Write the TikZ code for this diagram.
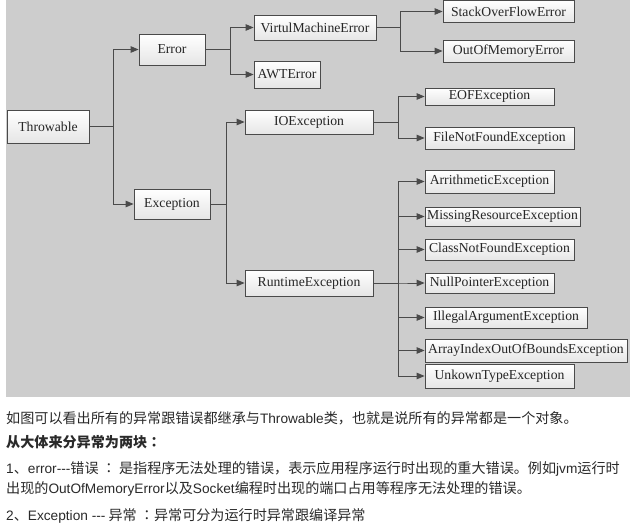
\documentclass[tikz,border=0pt]{standalone}
\usepackage{fontspec}
\setmainfont{Liberation Serif}
\newfontfamily\cjk{Noto Sans CJK SC}
\newfontfamily\cjktc{Noto Sans CJK TC}
\newfontfamily\latn[Scale=0.97]{Liberation Sans}
\usetikzlibrary{arrows.meta}
\definecolor{bggray}{HTML}{CDCDCD}
\definecolor{linegray}{HTML}{4A4A4A}
\definecolor{txtgray}{HTML}{2A2A2A}
\newcommand\hyph{-\kern0pt-\kern0pt-}
\newcommand\colonc{{\cjktc ：}}
\tikzset{
  box/.style={draw=linegray, line width=0.8pt, top color=white, bottom color=black!10,
    inner sep=0pt, text=black!85, font=\fontsize{13.7}{15}\selectfont, anchor=center},
  conn/.style={draw=linegray, line width=1pt, -{Triangle[length=8pt,width=6.5pt]}},
  para/.style={anchor=base west, inner sep=0pt, text=txtgray, font=\cjk\fontsize{14.1}{16}\selectfont}
}
\begin{document}
\begin{tikzpicture}[x=1pt,y=-1pt]
\useasboundingbox (0,0) rectangle (637,530);
\fill[white] (0,0) rectangle (637,530);
\fill[bggray] (6,0) rectangle (630,397);
% level 0/1
\node[box, minimum width=82pt, minimum height=33pt] (thr) at (48,126.5) {Throwable};
\node[box, minimum width=66pt, minimum height=31pt] (err) at (172,49.5) {Error};
\node[box, minimum width=76pt, minimum height=30pt] (exc) at (172,204) {Exception};
% level 2
\node[box, minimum width=122pt, minimum height=25pt] (vme) at (315,27.5) {VirtulMachineError};
\node[box, minimum width=66pt, minimum height=27pt] (awt) at (287,74.5) {AWTError};
\node[box, minimum width=128pt, minimum height=24pt] (io) at (309,122) {IOException};
\node[box, minimum width=128pt, minimum height=26pt] (rt) at (309,283) {RuntimeException};
% level 3
\node[box, minimum width=131pt, minimum height=22pt] (sof) at (508.5,11.5) {StackOverFlowError};
\node[box, minimum width=131pt, minimum height=22pt] (oom) at (508.5,51) {OutOfMemoryError};
\node[box, minimum width=129pt, minimum height=17pt] (eof) at (489.5,96.5) {EOFException};
\node[box, minimum width=149pt, minimum height=22pt] (fnf) at (499.5,138) {FileNotFoundException};
\node[box, minimum width=129pt, minimum height=23pt] (ari) at (489.5,181.5) {ArrithmeticException};
\node[box, minimum width=155pt, minimum height=19pt] (mis) at (502.5,216.5) {MissingResourceException};
\node[box, minimum width=149pt, minimum height=21pt] (cnf) at (499.5,249.5) {ClassNotFoundException};
\node[box, minimum width=129pt, minimum height=20pt] (npe) at (489.5,283) {NullPointerException};
\node[box, minimum width=162pt, minimum height=21pt] (iae) at (506,317.5) {IllegalArgumentException};
\node[box, minimum width=202pt, minimum height=23pt] (aio) at (526,350.5) {ArrayIndexOutOfBoundsException};
\node[box, minimum width=149pt, minimum height=24pt] (ukt) at (499.5,376) {UnkownTypeException};
% connectors
\draw[conn] (thr.east) -- ++(24,0) |- (err.west);
\draw[conn] (thr.east) -- ++(24,0) |- (exc.west);
\draw[conn] (err.east) -- ++(25,0) |- (vme.west);
\draw[conn] (err.east) -- ++(25,0) |- (awt.west);
\draw[conn] (exc.east) -- ++(16,0) |- (io.west);
\draw[conn] (exc.east) -- ++(16,0) |- (rt.west);
\draw[conn] (vme.east) -- ++(24,0) |- (sof.west);
\draw[conn] (vme.east) -- ++(24,0) |- (oom.west);
\draw[conn] (io.east) -- ++(25,0) |- (eof.west);
\draw[conn] (io.east) -- ++(25,0) |- (fnf.west);
\foreach \t in {ari,mis,cnf,npe,iae,aio,ukt}
  \draw[conn] (rt.east) -- ++(25,0) |- (\t.west);
% text
\node[para] (p1) at (6,423) {如图可以看出所有的异常跟错误都继承与{\latn Throwable}类，也就是说所有的异常都是一个对象。};
\node[para, font=\cjk\bfseries\fontsize{14.1}{16}\selectfont] (p2) at (6,447) {从大体来分异常为两块\colonc};
\node[para] (p3) at (6,473) {{\latn 1}、{\latn error\hyph}错误 \colonc{} 是指程序无法处理的错误，表示应用程序运行时出现的重大错误。例如{\latn jvm}运行时};
\node[para] (p4) at (6,493) {出现的{\latn OutOfMemoryError}以及{\latn Socket}编程时出现的端口占用等程序无法处理的错误。};
\node[para] (p5) at (6,520) {{\latn 2}、{\latn Exception \hyph{}} 异常 \colonc 异常可分为运行时异常跟编译异常};
\end{tikzpicture}
\end{document}
